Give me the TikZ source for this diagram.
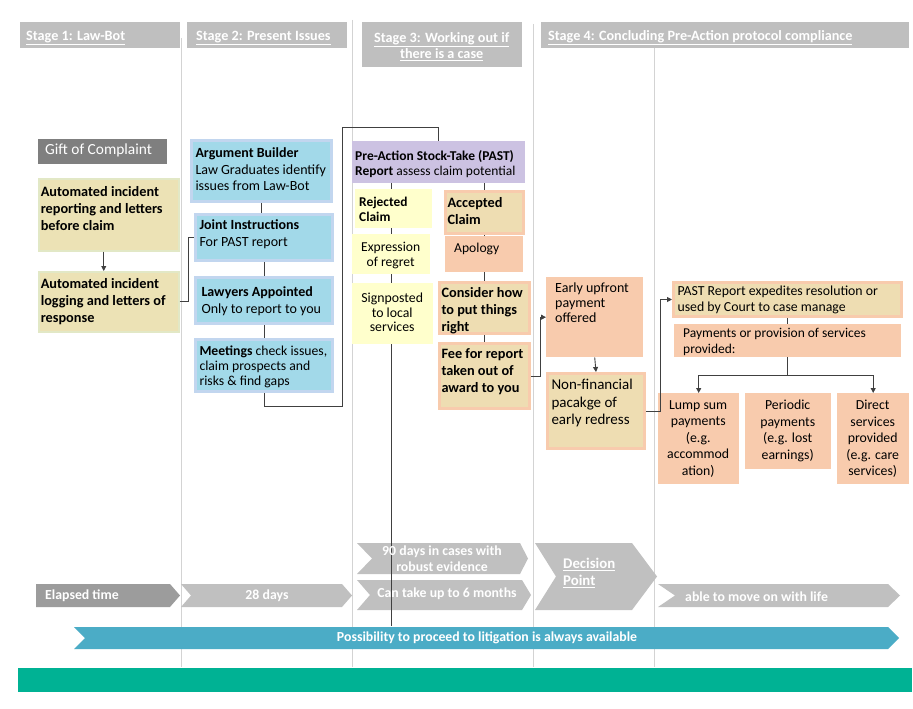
\documentclass[tikz,border=0pt]{standalone}
\usepackage{fontspec}
\setmainfont{Carlito}
\usetikzlibrary{arrows.meta}
\definecolor{stagegray}{HTML}{BFBFBF}
\definecolor{darkgray}{HTML}{7F7F7F}
\definecolor{beige}{HTML}{ECE2B5}
\definecolor{beigeline}{HTML}{E2E8C6}
\definecolor{bluefill}{HTML}{A2D9E9}
\definecolor{blueline}{HTML}{C2D6EF}
\definecolor{lav}{HTML}{CCC2E2}
\definecolor{lyellow}{HTML}{FFFFCC}
\definecolor{peach}{HTML}{F8CBAD}
\definecolor{mixfill}{HTML}{EEDDB2}
\definecolor{sepgray}{HTML}{D3D3D3}
\definecolor{chevdark}{HTML}{9C9C9C}
\definecolor{chevlight}{HTML}{C0C0C0}
\definecolor{tealchev}{HTML}{4BACC6}
\definecolor{tealbar}{HTML}{00B294}
\newcommand\BX[9]{\node[#2,anchor=north west,inner sep=0pt] (#1) at (#3,#4)
  {\parbox[c][#6pt][t]{#5pt}{\vspace*{#8pt}\hspace*{#7pt}\parbox[t]{\dimexpr#5pt-#7pt-1pt\relax}{#9}}};}
\newcommand\fs[2]{\fontsize{#1}{#2}\selectfont}
\newcommand\hdr{\fs{14.2}{15.7}\bfseries\color{white}}
\newcommand\chv{\fs{13.8}{15.5}\bfseries\color{white}}
\begin{document}
\begin{tikzpicture}[x=1pt,y=-1pt,
  stg/.style={fill=stagegray},
  giftbox/.style={fill=darkgray},
  beigebox/.style={fill=beige,draw=beigeline,line width=1.5pt},
  bluebox/.style={fill=bluefill,draw=blueline,line width=3pt},
  lavbox/.style={fill=lav},
  yelbox/.style={fill=lyellow},
  peachbox/.style={fill=peach},
  mixbox/.style={fill=mixfill,draw=peach,line width=3pt},
  sepline/.style={draw=sepgray,line width=1pt},
  conn/.style={draw=black!75,line width=0.9pt},
  arr/.style={conn,-{Triangle[length=5pt,width=5pt]}},
  chevtext/.style={inner sep=0pt,font=\chv,align=center}]
\useasboundingbox (0,0) rectangle (913,709);
\fill[white] (0,0) rectangle (913,709);
% separators
\draw[sepline] (181,38) -- (181,667);
\draw[sepline] (352,20) -- (352,667);
\draw[sepline] (533,24) -- (533,667);
\draw[sepline] (654,47) -- (654,667);
% stage headers
\BX{s1}{stg}{20}{22}{160}{26}{6}{8.5}{\hdr\underline{Stage 1: Law-Bot}}
\BX{s2}{stg}{187}{22}{160}{26}{9}{8.5}{\hdr\underline{Stage 2: Present Issues}}
\BX{s3}{stg}{362}{22}{160}{45}{0}{10.5}{\hdr\centering\underline{Stage 3: Working out if}\\\underline{there is a case}}
\BX{s4}{stg}{541}{22}{368}{26}{7}{8.5}{\hdr\underline{Stage 4: Concluding Pre-Action protocol compliance}}
% stage 1
\BX{gift}{giftbox}{38}{139}{129}{25}{7}{5}{\fs{15.4}{17}\color{white}Gift of Complaint}
\BX{rep}{beigebox}{38}{178}{140}{72}{2}{7.5}{\fs{14.3}{17}\bfseries Automated incident\\reporting and letters\\before claim}
\BX{log}{beigebox}{38}{271}{140}{60}{2}{7}{\fs{14.3}{17}\bfseries Automated incident\\logging and letters of\\response}
% stage 2
\BX{arg}{bluebox}{190}{139}{140}{61}{4}{7}{\fs{14}{16.7}\textbf{Argument Builder}\\Law Graduates identify\\issues from Law-Bot}
\BX{joint}{bluebox}{194}{213}{137}{46}{4}{5}{\fs{14}{16.7}\textbf{Joint Instructions}\\For PAST report}
\BX{lawy}{bluebox}{194}{276}{137}{46}{6}{9}{\fs{14}{16.7}\textbf{Lawyers Appointed}\\Only to report to you}
\BX{meet}{bluebox}{194}{338}{137}{52}{4}{6.5}{\fs{13.7}{14.7}\textbf{Meetings} check issues,\\claim prospects and\\risks \& find gaps}
% stage 3
\BX{past}{lavbox}{352}{141}{173}{42}{3}{9}{\fs{13.5}{15}\textbf{Pre-Action Stock-Take (PAST)}\\\textbf{Report} assess claim potential}
\BX{rej}{yelbox}{355}{189}{77}{39}{4}{8}{\fs{13.4}{15}\bfseries Rejected\\Claim}
\BX{expr}{yelbox}{352}{234}{78}{40}{0}{8}{\fs{13.6}{15}\centering Expression\\of regret}
\BX{sign}{yelbox}{352}{283}{81}{61}{0}{10}{\fs{13.8}{14.3}\centering Signposted\\to local\\services}
\BX{acc}{mixbox}{444}{190}{78}{42}{2}{5.5}{\fs{14.3}{17}\bfseries Accepted\\Claim}
\BX{apol}{peachbox}{445}{236}{78}{36}{9}{6.5}{\fs{13.6}{15} Apology}
\BX{cons}{mixbox}{438}{281}{90}{51}{2}{4.5}{\fs{14.3}{17}\bfseries Consider how\\to put things\\right}
\BX{fee}{mixbox}{438}{342}{90}{65}{2}{5.5}{\fs{14.3}{17}\bfseries Fee for report\\taken out of\\award to you}
% stage 4
\BX{early}{peachbox}{546}{277}{97}{80}{9}{5.5}{\fs{14}{15} Early upfront\\payment\\offered}
\BX{nonf}{mixbox}{546}{372}{97}{75}{4}{6}{\fs{15}{17.5} Non-financial\\pacakge of\\early redress}
\BX{prep}{mixbox}{672}{281}{228}{34}{4}{3}{\fs{13.8}{16.7} PAST Report expedites resolution or\\used by Court to case manage}
\BX{pay}{peachbox}{674}{324}{227}{33}{9}{4.5}{\fs{13.5}{15.7} Payments or provision of services\\provided:}
\BX{lump}{peachbox}{658}{393}{81}{91}{0}{7}{\fs{13.8}{16.5}\centering Lump sum\\payments\\(e.g.\\accommod\\ation)}
\BX{peri}{peachbox}{745}{393}{86}{76}{0}{7}{\fs{13.8}{16.5}\centering Periodic\\payments\\(e.g. lost\\earnings)}
\BX{dir}{peachbox}{837}{393}{72}{91}{0}{7}{\fs{13.8}{16.5}\centering Direct\\services\\provided\\(e.g. care\\services)}
% connectors stage 1-2
\draw[arr] ([xshift=-5pt]rep.south) -- ([xshift=-5pt]log.north);
\draw[conn] (log.east) -- ++(9,0) |- (joint.west);
\draw[conn] (arg.south) -- (arg.south |- joint.north);
\draw[conn] (joint.south) -- (lawy.north);
\draw[conn] (lawy.south) -- (meet.north);
\draw[conn] (meet.south) -- ++(0,13) -| ++(78,-279) -| (past.north);
% stage 3 connectors
\coordinate (rejend) at (391,626);
\draw[conn] (391,183) -- (rej.north -| 391,0);
\draw[conn] (rej.south -| 391,0) -- (expr.north -| 391,0);
\draw[conn] (expr.south -| 391,0) -- (sign.north -| 391,0);
\draw[conn] (acc.north |- past.south) -- (acc.north);
\draw[conn] (acc.south) -- (apol.north -| acc.south);
\draw[conn] (apol.south -| acc.south) -- (cons.north -| acc.south);
\draw[conn] (cons.south -| acc.south) -- (fee.north -| acc.south);
\draw[arr] (fee.east) -- ++(9,0) |- (early.west);
\draw[arr] (early.south) -- (nonf.north);
\draw[arr] (nonf.east) -- ++(14,0) |- (prep.west);
\draw[conn] (prep.south) -- (prep.south |- pay.north);
\draw[conn] (prep.south |- pay.south) -- ++(0,18) coordinate (split);
\draw[arr] (split) -| (lump.north);
\draw[arr] (split) -| (dir.north);
% chevrons
\fill[chevdark] (36,584) -- (170,584) -- (180,595.5) -- (170,607) -- (36,607) -- cycle;
\fill[chevlight] (181,584) -- (342,584) -- (352,595.5) -- (342,607) -- (181,607) -- (191,595.5) -- cycle;
\fill[chevlight] (357,543) -- (520,543) -- (528,558.5) -- (520,574) -- (357,574) -- (372,558.5) -- cycle;
\fill[chevlight] (357,580) -- (522,580) -- (531,595) -- (522,610) -- (357,610) -- (370,595) -- cycle;
\fill[chevlight] (535,543) -- (632,543) -- (657,576.5) -- (632,610) -- (535,610) -- (556,576.5) -- cycle;
\fill[chevlight] (658,584) -- (888,584) -- (900,595.5) -- (888,607) -- (658,607) -- (675,595.5) -- cycle;
\draw[conn] (sign.south -| 391,0) -- (rejend);
\fill[tealchev] (74,627) -- (888,627) -- (899,638) -- (888,649) -- (74,649) -- (85,638) -- cycle;
\fill[tealbar] (18,668) rectangle (912,692);
\node[chevtext,anchor=west] (elapsed) at (45,596) {Elapsed time};
\node[chevtext] (days28) at (267,596) {28 days};
\node[chevtext] (days90) at (442,558.5) {90 days in cases with\\robust evidence};
\node[chevtext] (sixm) at (447,594) {Can take up to 6 months};
\node[chevtext,anchor=west,align=left,font=\fs{14.8}{17.5}\bfseries\color{white}] (decision) at (563,573) {\underline{Decision}\\\underline{Point}};
\node[chevtext,anchor=west] (able) at (685,597) {able to move on with life};
\node[chevtext] (litig) at (487,638) {Possibility to proceed to litigation is always available};
\end{tikzpicture}
\end{document}
